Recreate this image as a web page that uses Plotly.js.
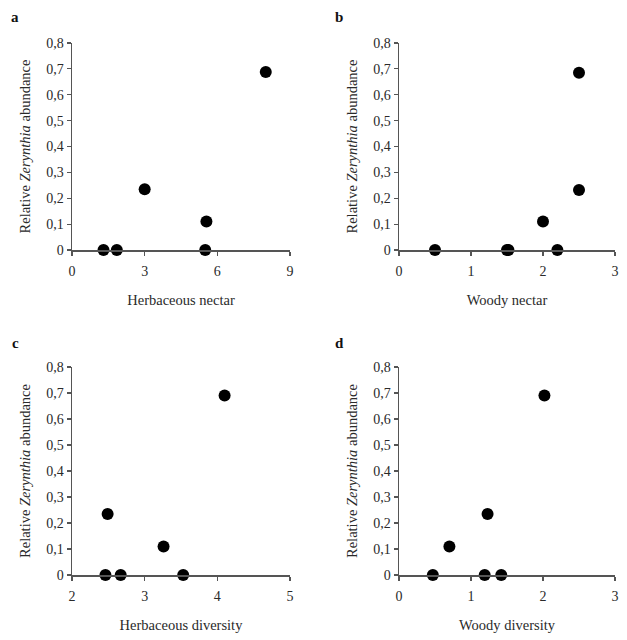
<!DOCTYPE html>
<html>
<head>
<meta charset="utf-8">
<script src="https://cdn.plot.ly/plotly-3.0.1.min.js"></script>
<style>html,body{margin:0;padding:0;background:#fff;}#chart{width:627px;height:640px;}</style>
</head>
<body>
<div id="chart"></div>
<script>
// Panel a: Herbaceous nectar
const herbNectarX = [1.3, 1.85, 3.0, 5.5, 5.55, 8.0];
const herbNectarY = [0, 0, 0.235, 0, 0.11, 0.688];
// Panel b: Woody nectar
const woodyNectarX = [0.5, 1.5, 1.52, 2.0, 2.2, 2.5, 2.5];
const woodyNectarY = [0, 0, 0, 0.11, 0, 0.232, 0.685];
// Panel c: Herbaceous diversity
const herbDivX = [2.46, 2.49, 2.67, 3.26, 3.53, 4.1];
const herbDivY = [0, 0.235, 0, 0.11, 0, 0.69];
// Panel d: Woody diversity
const woodyDivX = [0.47, 0.70, 1.19, 1.23, 1.42, 2.02];
const woodyDivY = [0, 0.11, 0, 0.235, 0, 0.69];

const yTickVals = [0, 0.1, 0.2, 0.3, 0.4, 0.5, 0.6, 0.7, 0.8];
const yTickText = ['0', '0,1', '0,2', '0,3', '0,4', '0,5', '0,6', '0,7', '0,8'];
const xTicksA = [0, 3, 6, 9];
const xTicksB = [0, 1, 2, 3];
const xTicksC = [2, 3, 4, 5];
const xTicksD = [0, 1, 2, 3];
const xTitles = ['Herbaceous nectar', 'Woody nectar', 'Herbaceous diversity', 'Woody diversity'];
const panelLetters = ['a', 'b', 'c', 'd'];
const yTitle = 'Relative <i>Zerynthia</i> abundance';

const W = 627, H = 640;
const fontFam = '"Liberation Serif", "Times New Roman", serif';
const txtColor = '#2a2a2a';
const lineColor = '#555555';

function trace(x, y, xa, ya) {
  return {x: x, y: y, xaxis: xa, yaxis: ya, type: 'scatter', mode: 'markers',
    marker: {color: '#000', size: 12}, cliponaxis: false, hoverinfo: 'skip'};
}

const data = [
  trace(herbNectarX, herbNectarY, 'x', 'y'),
  trace(woodyNectarX, woodyNectarY, 'x2', 'y2'),
  trace(herbDivX, herbDivY, 'x3', 'y3'),
  trace(woodyDivX, woodyDivY, 'x4', 'y4')
];

function xaxis(ticks, title, dom, anchor) {
  return {
    domain: dom, anchor: anchor, range: [ticks[0], ticks[ticks.length - 1]],
    tickvals: ticks, ticktext: ticks.map(String),
    showgrid: false, zeroline: false, showline: true, linecolor: lineColor, linewidth: 1.5,
    ticks: 'outside', ticklen: 4, tickcolor: lineColor, tickwidth: 1.2,
    ticklabelstandoff: 4,
    tickfont: {family: fontFam, size: 14, color: txtColor},
    title: {text: title, font: {family: fontFam, size: 14.5, color: txtColor}, standoff: 16},
    fixedrange: true
  };
}
function yaxis(dom, anchor) {
  return {
    domain: dom, anchor: anchor, range: [0, 0.8],
    tickvals: yTickVals, ticktext: yTickText,
    showgrid: false, zeroline: false, showline: true, linecolor: lineColor, linewidth: 1.5,
    ticks: 'outside', ticklen: 4, tickcolor: lineColor, tickwidth: 1.2,
    tickfont: {family: fontFam, size: 14, color: txtColor},
    title: {text: yTitle, font: {family: fontFam, size: 14.5, color: txtColor}, standoff: 12},
    fixedrange: true
  };
}

const xdL = [72 / W, 290 / W], xdR = [399 / W, 615 / W];
const ydT = [1 - 250 / H, 1 - 43 / H], ydB = [1 - 575 / H, 1 - 367 / H];

const letterPos = [[15, 17], [339, 17], [15, 343], [339, 343]];
const annotations = panelLetters.map((l, i) => ({
  text: '<b>' + l + '</b>', xref: 'paper', yref: 'paper',
  x: letterPos[i][0] / W, y: 1 - letterPos[i][1] / H, xanchor: 'center', yanchor: 'middle',
  showarrow: false, font: {family: fontFam, size: 15, color: '#111'}
}));

const layout = {
  width: W, height: H, margin: {l: 0, r: 0, t: 0, b: 0},
  paper_bgcolor: '#fff', plot_bgcolor: '#fff', showlegend: false,
  xaxis: xaxis(xTicksA, xTitles[0], xdL, 'y'),
  yaxis: yaxis(ydT, 'x'),
  xaxis2: xaxis(xTicksB, xTitles[1], xdR, 'y2'),
  yaxis2: yaxis(ydT, 'x2'),
  xaxis3: xaxis(xTicksC, xTitles[2], xdL, 'y3'),
  yaxis3: yaxis(ydB, 'x3'),
  xaxis4: xaxis(xTicksD, xTitles[3], xdR, 'y4'),
  yaxis4: yaxis(ydB, 'x4'),
  annotations: annotations
};

Plotly.newPlot('chart', data, layout, {staticPlot: true, displayModeBar: false});
</script>
</body>
</html>
